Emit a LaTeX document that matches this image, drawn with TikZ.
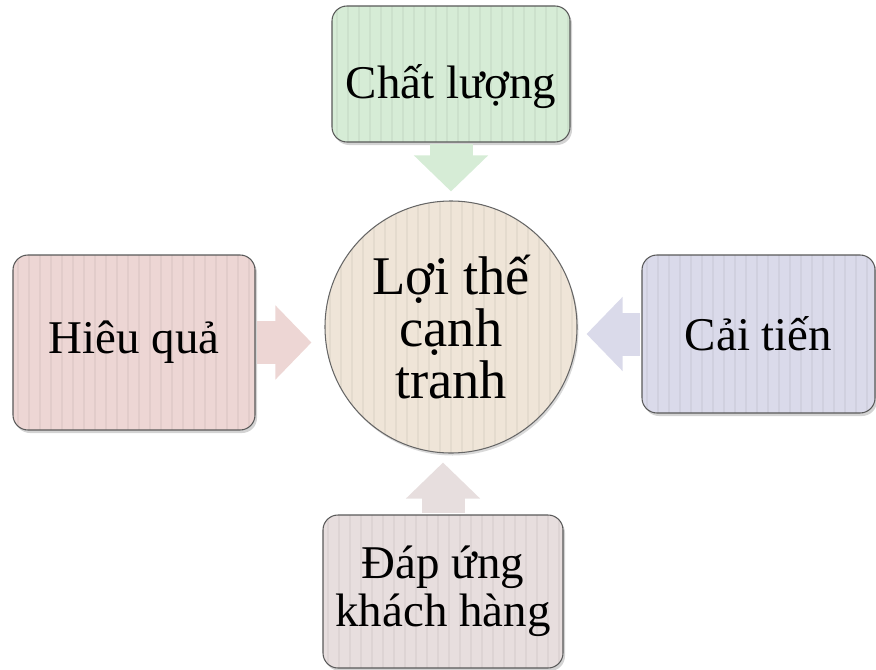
\documentclass[tikz,border=0pt]{standalone}
\usepackage{fontspec}
\setmainfont{Liberation Serif}
\usetikzlibrary{positioning,calc,arrows.meta,shadows}
\tikzset{every picture/.style={>=latex,thick}}
\definecolor{qualityfill}{RGB}{214,236,214}
\definecolor{efficiencyfill}{RGB}{237,214,212}
\definecolor{innovationfill}{RGB}{218,218,234}
\definecolor{responsefill}{RGB}{231,222,222}
\definecolor{edgefill}{RGB}{239,229,216}
\tikzset{stripes/.style={path picture={
  \foreach \k in {0.1,0.32,...,5.3}
    \draw[black,opacity=0.045,line width=1pt]
      ([xshift=\k cm]path picture bounding box.south west) --
      ([xshift=\k cm]path picture bounding box.north west);}}}
\tikzset{factor/.style={draw=black!65,semithick,rounded corners=0.3cm,inner sep=0pt,
  align=center,font=\fontsize{26.7}{30}\selectfont,
  drop shadow={shadow xshift=0.04cm,shadow yshift=-0.06cm,opacity=0.35},stripes}}
\tikzset{push/.style={line width=0.86cm,-{Triangle[width=1.44cm,length=0.72cm]},
  shorten <=1pt,shorten >=0.18cm}}
\begin{document}
\begin{tikzpicture}
      \useasboundingbox (0,0) rectangle (17.52,13.38);
      \node[circle,draw=black!60,semithick,fill=edgefill,minimum size=5.04cm,inner sep=0pt,
            align=center,font=\fontsize{31}{29.6}\selectfont,stripes,
            drop shadow={shadow xshift=0.03cm,shadow yshift=-0.05cm,opacity=0.3}]
            (edge) at (9.02,6.84) {Lợi thế\\cạnh\\tranh};
      \node[factor,fill=qualityfill,minimum width=4.76cm,minimum height=2.72cm,
            text height=1.16cm,text depth=0.2cm]
            (quality) at (9.02,11.90) {Chất lượng};
      \node[factor,fill=efficiencyfill,minimum width=4.84cm,minimum height=3.5cm]
            (efficiency) at (2.68,6.53) {Hiêu quả};
      \node[factor,fill=innovationfill,minimum width=4.66cm,minimum height=3.16cm]
            (innovation) at (15.17,6.70) {Cải tiến};
      \node[factor,fill=responsefill,minimum width=4.8cm,minimum height=3.06cm,
            font=\fontsize{26.7}{27.3}\selectfont]
            (response) at (8.86,1.55) {Đáp ứng\\khách hàng};
      \draw[push,qualityfill] (quality.south) -- (quality.south |- edge.north);
      \draw[push,efficiencyfill,shorten >=0.26cm] (efficiency.east) -- (efficiency.east -| edge.west);
      \draw[push,innovationfill] (innovation.west) -- (innovation.west -| edge.east);
      \draw[push,responsefill] (response.north) -- (response.north |- edge.south);
    \end{tikzpicture}
\end{document}
